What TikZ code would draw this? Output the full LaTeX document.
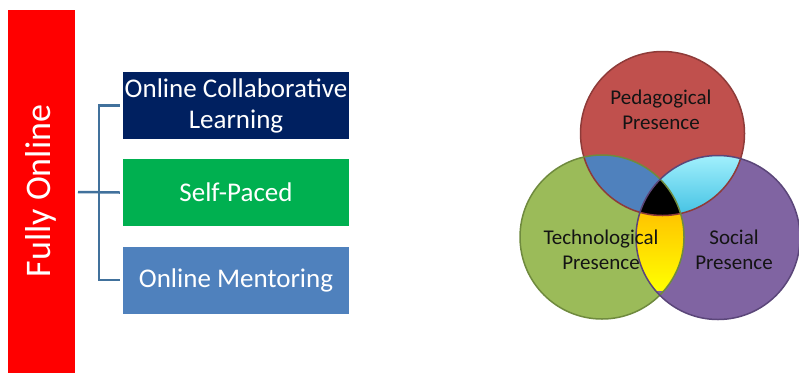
\documentclass[tikz,border=0pt]{standalone}
\usepackage{fontspec}
\setmainfont{Carlito}
\definecolor{barred}{HTML}{FF0000}
\definecolor{navybox}{HTML}{002060}
\definecolor{greenbox}{HTML}{00B050}
\definecolor{bluebox}{HTML}{4F81BD}
\definecolor{brk}{HTML}{41719C}
\definecolor{vred}{HTML}{C0504D}
\definecolor{vredd}{HTML}{8E3B39}
\definecolor{vgreen}{HTML}{9BBB59}
\definecolor{vgreend}{HTML}{6F8A3E}
\definecolor{vpurple}{HTML}{8064A2}
\definecolor{vpurpled}{HTML}{5B4679}
\definecolor{vblue}{HTML}{4F81BD}
\definecolor{vtext}{HTML}{141414}
\begin{document}
\begin{tikzpicture}[x=1pt,y=-1pt,
  modebox/.style={minimum width=226pt,minimum height=67pt,inner sep=0pt,text=white,
    align=center,font=\fontsize{27}{31}\selectfont},
  brkline/.style={draw=brk,line width=2.5pt},
  vlabel/.style={text=vtext,align=center,font=\fontsize{21}{25}\selectfont},
  vborder/.style={line width=1.5pt}]
\useasboundingbox (0,0) rectangle (799,373);
% left part
\fill[barred] (8,10) rectangle (75,373);
\node[rotate=90,text=white,font=\fontsize{36}{40}\selectfont] (bar) at (41,191) {Fully Online};
\coordinate (barE) at (75,192);
\node[modebox,fill=navybox] (b1) at (236,105.5) {Online Collaborative\\Learning};
\node[modebox,fill=greenbox] (b2) at (236,192.5) {Self-Paced};
\node[modebox,fill=bluebox] (b3) at (236,280) {Online Mentoring};
\coordinate (bx) at (99,0);
\draw[brkline] ([xshift=-3pt]b1.west) -- (b1.west -| bx) -- (b3.west -| bx) -- ([xshift=-3pt]b3.west);
\draw[brkline] ([xshift=3pt]barE) -- ([xshift=-3pt]b2.west);
% Venn
\coordinate (R) at (662.5,133.5);
\coordinate (G) at (602,237);
\coordinate (P) at (718,237.5);
\def\rad{82}
\fill[vred] (R) circle (\rad);
\fill[vgreen] (G) circle (\rad);
\fill[vpurple] (P) circle (\rad);
\begin{scope}
  \clip (R) circle (\rad);
  \fill[vblue] (G) circle (\rad);
\end{scope}
\begin{scope}
  \clip (R) circle (\rad);
  \clip (P) circle (\rad);
  \shade[top color={rgb,255:red,170;green,244;blue,255},bottom color={rgb,255:red,60;green,190;blue,225}] (640,150) rectangle (760,220);
\end{scope}
\begin{scope}
  \clip (G) circle (\rad);
  \clip (P) circle (\rad);
  \shade[top color={rgb,255:red,255;green,190;blue,0},bottom color={rgb,255:red,255;green,255;blue,0}] (630,205) rectangle (700,290);
\end{scope}
\begin{scope}
  \clip (R) circle (\rad);
  \clip (G) circle (\rad);
  \fill[black] (P) circle (\rad);
\end{scope}
\draw[vborder,vredd] (R) circle (\rad);
\draw[vborder,vgreend] (G) circle (\rad);
\draw[vborder,vpurpled] (P) circle (\rad);
\node[vlabel] (ped) at (661,110) {Pedagogical\\Presence};
\node[vlabel] (tech) at (601,250) {Technological\\Presence};
\node[vlabel] (soc) at (734,250) {Social\\Presence};
\end{tikzpicture}
\end{document}
